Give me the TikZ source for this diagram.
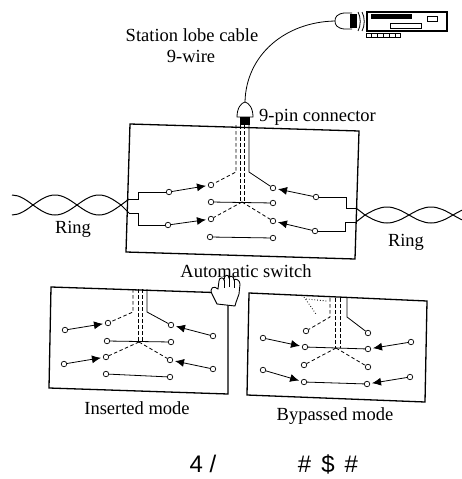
\documentclass[tikz,border=0pt]{standalone}
\usepackage{fontspec}
\setmainfont{Liberation Serif}
\newfontfamily\glyphfont{Liberation Sans}
\usetikzlibrary{arrows.meta,positioning}

\begin{document}
\begin{tikzpicture}[
    x=1pt, y=-1pt,
    term/.style={draw, circle, inner sep=0pt, minimum size=5.5pt, fill=white, line width=0.7pt},
    wire/.style={line width=0.8pt},
    feed/.style={wire, shorten >=2pt, -{Latex[length=9pt,width=8pt]}},
    bundle/.style={line width=0.8pt, dash pattern=on 3.5pt off 2.5pt},
    frame/.style={line width=1.3pt},
    pair/.style={line width=1pt},
    lbl/.style={font=\fontsize{18.5}{20}\selectfont, inner sep=0pt}
]
    \useasboundingbox (0,0) rectangle (462,479);

    % Station with its lobe cable
    \coordinate (plug) at (335,21);
    \coordinate (jack) at (245,102);
    \draw[wire] (352,13) -- (344,13) .. controls (337,14) and (335,17) .. (plug)
        .. controls (335,25) and (337,28) .. (344,29) -- (352,29);
    \fill (350,14) rectangle (357,28);
    \draw[wire] (358,12) .. controls (361,17) and (361,26) .. (358,31);
    \draw[wire] (362,12) .. controls (365,17) and (365,26) .. (362,31);
    \draw[frame] (367,12) rectangle (447,31);
    \fill (371,14) rectangle (412,19);
    \draw[wire] (390,23) rectangle (421,28);
    \draw[wire] (427,16) rectangle (437,21);
    \draw[wire] (366,33) rectangle (400,37) (371,33) -- (371,37) (377,33) -- (377,37)
        (383,33) -- (383,37) (389,33) -- (389,37) (395,33) -- (395,37);
    \draw[wire] (plug) .. controls (285,22) and (246,55) .. (jack);
    \node[lbl] (cable) at (192,35) {Station lobe cable};
    \node[lbl] (wires) at (191,56) {9-wire};

    % 9-pin connector on top of the switch
    \draw[wire, fill=white] (237,117) .. controls (237,108) and (241,103) .. (jack)
        .. controls (249,103) and (253,108) .. (253,117) -- cycle;
    \fill (240,117) rectangle (250,125);
    \node[lbl, anchor=west] (pinlabel) at (259,117) {9-pin connector};

    % Automatic switch
    \draw[frame] (130,124) -- (359,131) -- (355,259) -- (126,252) -- cycle;
    \node[term] (a-lo1) at (169,192) {};
    \node[term] (a-li1) at (211,185) {};
    \node[term] (a-ri1) at (273,188) {};
    \node[term] (a-ro1) at (316,197) {};
    \node[term] (a-mid-l) at (211,202) {};
    \node[term] (a-mid-r) at (273,203) {};
    \node[term] (a-lo2) at (168,225) {};
    \node[term] (a-li2) at (211,219) {};
    \node[term] (a-ri2) at (273,221) {};
    \node[term] (a-ro2) at (315,231) {};
    \node[term] (a-bot-l) at (210,237) {};
    \node[term] (a-bot-r) at (273,238) {};
    \coordinate (a-jack) at (245,125);
    \coordinate (a-join) at (242,202);
    \coordinate (wl1) at (129,199);
    \coordinate (wl2) at (129,213);
    \coordinate (wr1) at (356,208);
    \coordinate (wr2) at (356,222);

    \draw[bundle] ([xshift=-9pt]a-jack) -- ++(0,47) -- (a-li1);
    \draw[bundle] ([xshift=-5pt]a-jack) -- ++(0,77);
    \draw[bundle] ([xshift=-1pt]a-jack) -- ++(0,77);
    \draw[wire] ([xshift=4pt]a-jack) -- ++(0,47) -- (a-ri1);
    \draw[bundle] (a-join) -- (a-li2);
    \draw[bundle] (a-join) -- (a-ri2);
    \draw[wire] (a-mid-l) -- (a-mid-r);
    \draw[wire] (a-bot-l) -- (a-bot-r);
    \draw[feed] (a-lo1) -- (a-li1);
    \draw[feed] (a-lo2) -- (a-li2);
    \draw[feed] (a-ro1) -- (a-ri1);
    \draw[feed] (a-ro2) -- (a-ri2);
    \draw[wire] (wl1) -- ++(9,0) |- (a-lo1);
    \draw[wire] (wl2) -- ++(9,0) |- (a-lo2);
    \draw[wire] (wr1) -- ++(-10,0) |- (a-ro1);
    \draw[wire] (wr2) -- ++(-11,0) |- (a-ro2);

    % Ring cables
    \draw[pair] (12,195) cos (33,205) sin (55,215) cos (77,205) sin (99,195) cos (121,205) -- (wl1);
    \draw[pair] (12,215) cos (33,205) sin (55,195) cos (77,205) sin (99,215) cos (121,205) -- (wl2);
    \draw[pair] (wr1) -- (365,215) sin (387,207) cos (409,215) sin (431,223) cos (453,215) sin (475,207);
    \draw[pair] (wr2) -- (365,215) sin (387,223) cos (409,215) sin (431,207) cos (453,215) sin (475,223);
    \node[lbl] (ring-l) at (73,229) {Ring};
    \node[lbl] (ring-r) at (406,242) {Ring};
    \node[lbl] (switch) at (246,271) {Automatic switch};

    % Inserted mode
    \draw[frame] (51,287) -- (228,293) -- (228,394) -- (49,388) -- cycle;
    \node[term] (b-lo1) at (65,330) {};
    \node[term] (b-li1) at (108,323) {};
    \node[term] (b-ri1) at (171,325) {};
    \node[term] (b-ro1) at (213,336) {};
    \node[term] (b-mid-l) at (107,341) {};
    \node[term] (b-mid-r) at (171,342) {};
    \node[term] (b-lo2) at (64,364) {};
    \node[term] (b-li2) at (106,357) {};
    \node[term] (b-ri2) at (170,360) {};
    \node[term] (b-ro2) at (213,369) {};
    \node[term] (b-bot-l) at (106,374) {};
    \node[term] (b-bot-r) at (170,377) {};
    \coordinate (b-jack) at (141,289);
    \coordinate (b-join) at (139,342);

    \draw[bundle] ([xshift=-8pt]b-jack) -- ++(0,23) -- (b-li1);
    \draw[bundle] ([xshift=-3pt]b-jack) -- ++(0,53);
    \draw[bundle] ([xshift=1pt]b-jack) -- ++(0,53);
    \draw[wire] ([xshift=6pt]b-jack) -- ++(0,23) -- (b-ri1);
    \draw[bundle] (b-join) -- (b-li2);
    \draw[bundle] (b-join) -- (b-ri2);
    \draw[wire] (b-mid-l) -- (b-mid-r);
    \draw[wire] (b-bot-l) -- (b-bot-r);
    \draw[feed] (b-lo1) -- (b-li1);
    \draw[feed] (b-lo2) -- (b-li2);
    \draw[feed] (b-ro1) -- (b-ri1);
    \draw[feed] (b-ro2) -- (b-ri2);
    \node[lbl] (inserted) at (137,408) {Inserted mode};

    % Bypassed mode
    \draw[frame] (249,293) -- (427,301) -- (425,402) -- (247,395) -- cycle;
    \node[term] (c-ui-l) at (306,331) {};
    \node[term] (c-ui-r) at (368,333) {};
    \node[term] (c-lo1) at (263,338) {};
    \node[term] (c-li1) at (305,347) {};
    \node[term] (c-ri1) at (368,349) {};
    \node[term] (c-ro1) at (411,342) {};
    \node[term] (c-di-l) at (304,365) {};
    \node[term] (c-di-r) at (368,367) {};
    \node[term] (c-lo2) at (263,370) {};
    \node[term] (c-li2) at (304,382) {};
    \node[term] (c-ri2) at (367,384) {};
    \node[term] (c-ro2) at (410,377) {};
    \coordinate (c-jack) at (338,298);
    \coordinate (c-join) at (336,348);

    \draw[bundle] ([xshift=-8pt]c-jack) -- ++(0,19) -- (c-ui-l);
    \draw[bundle] ([xshift=-3pt]c-jack) -- ++(0,50);
    \draw[bundle] ([xshift=2pt]c-jack) -- ++(0,50);
    \draw[wire] ([xshift=9pt]c-jack) -- ++(0,19) -- (c-ui-r);
    \draw[dotted, line width=0.8pt] (304,297) -- (316,314);
    \draw[dotted, line width=0.8pt] (306,299) -- (327,301);
    \draw[bundle] (c-join) -- (c-di-l);
    \draw[bundle] (c-join) -- (c-di-r);
    \draw[wire] (c-li1) -- (c-ri1);
    \draw[wire] (c-li2) -- (c-ri2);
    \draw[feed] (c-lo1) -- (c-li1);
    \draw[feed] (c-lo2) -- (c-li2);
    \draw[feed] (c-ro1) -- (c-ri1);
    \draw[feed] (c-ro2) -- (c-ri2);
    \node[lbl] (bypassed) at (335,416) {Bypassed mode};

    % Hand pressing the switch
    \draw[line width=0.9pt, fill=white] (217,304) -- (212,294)
        .. controls (209,288) and (214,285) .. (218,289) -- (219,281)
        .. controls (219,277) and (224,277) .. (224,280)
        .. controls (224,274) and (229,274) .. (229,278)
        .. controls (230,275) and (234,276) .. (234,280)
        .. controls (235,278) and (240,280) .. (240,284)
        -- (239,294) .. controls (238,298) and (236,301) .. (235,306) -- cycle;
    \draw[line width=0.7pt] (224,280) -- (224,288) (229,278) -- (229,287) (234,280) -- (234,288);

    % Codes below
    \node[font=\glyphfont\fontsize{24}{26}\selectfont, inner sep=0pt] (code-a) at (203,464) {4 /};
    \node[font=\glyphfont\fontsize{24}{26}\selectfont, inner sep=0pt] (code-b) at (328,464) {\#\hspace{10pt}\$\hspace{10pt}\#};
\end{tikzpicture}
\end{document}
